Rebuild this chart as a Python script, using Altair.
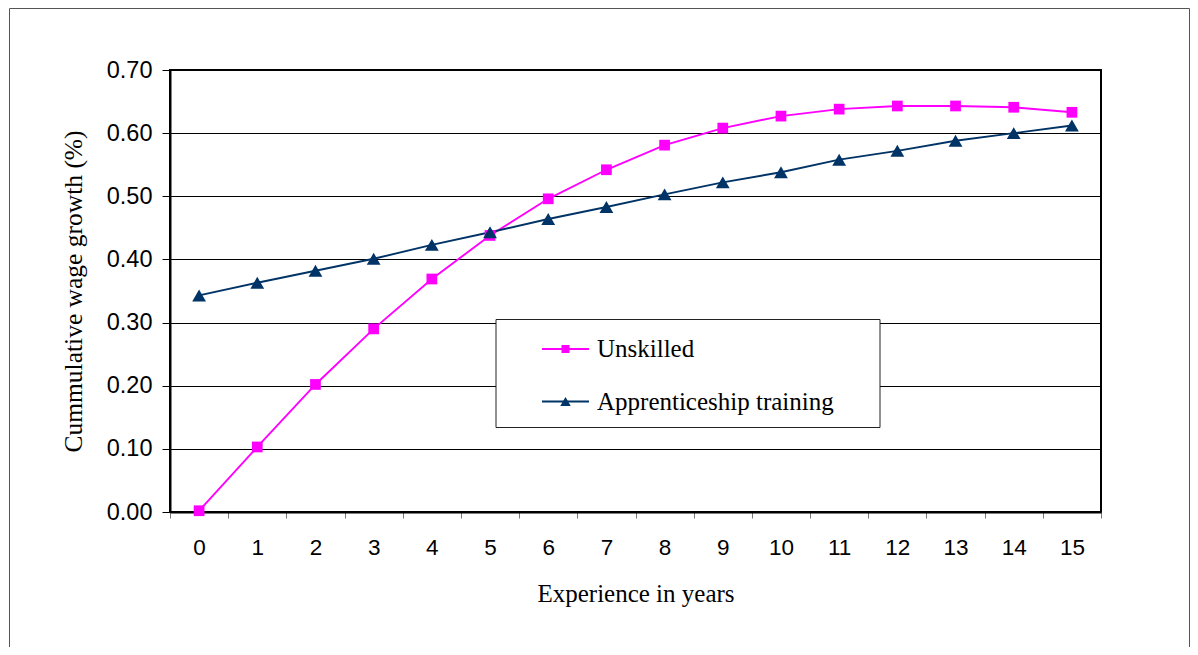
import altair as alt
import pandas as pd

years = list(range(16))
unskilled = [0.002, 0.103, 0.202, 0.290, 0.369, 0.438, 0.496, 0.542, 0.581, 0.608,
             0.627, 0.638, 0.643, 0.643, 0.641, 0.633]
apprentice = [0.343, 0.363, 0.382, 0.401, 0.423, 0.443, 0.464, 0.483, 0.503, 0.522,
              0.538, 0.558, 0.572, 0.588, 0.600, 0.612]
series_names = ["Unskilled", "Apprenticeship training"]
series_colors = ["#FF00FF", "#003366"]
series_shapes = ["square", "triangle-up"]
series_sizes = [115, 190]
legend_sizes = [64, 110]
y_ticks = [0.0, 0.1, 0.2, 0.3, 0.4, 0.5, 0.6, 0.7]

rows = []
for name, vals in zip(series_names, [unskilled, apprentice]):
    for x, v in zip(years, vals):
        rows.append({"year": x, "value": v, "series": name})
df = pd.DataFrame(rows)

SANS = "Liberation Sans"
SERIF = "Liberation Serif"

x_enc = alt.X("year:O", bandPosition=0.5,
              scale=alt.Scale(type="band", paddingInner=0, paddingOuter=0, domain=years),
              axis=alt.Axis(title="Experience in years", labelAngle=0, tickBand="extent",
                            grid=False, domainColor="black", domainWidth=2,
                            tickColor="#777", tickSize=6, tickWidth=1,
                            labelFont=SANS, labelFontSize=22.5, labelColor="black",
                            labelPadding=18, titleFont=SERIF, titleFontSize=25,
                            titleFontWeight="normal", titleColor="black", titlePadding=23))
y_enc = alt.Y("value:Q",
              scale=alt.Scale(domain=[0, 0.7], nice=False, zero=True),
              axis=alt.Axis(title="Cummulative wage growth (%)", values=y_ticks, format=".2f",
                            grid=True, gridColor="black", gridWidth=1,
                            domainColor="black", domainWidth=2,
                            tickColor="black", tickSize=8, tickWidth=1,
                            labelFont=SANS, labelFontSize=23.5, labelColor="black",
                            labelPadding=10, titleFont=SERIF, titleFontSize=25.5,
                            titleFontWeight="normal", titleColor="black", titlePadding=20))
color_enc = alt.Color("series:N", scale=alt.Scale(domain=series_names, range=series_colors),
                      legend=None)
shape_enc = alt.Shape("series:N", scale=alt.Scale(domain=series_names, range=series_shapes),
                      legend=None)
size_enc = alt.Size("series:N", scale=alt.Scale(domain=series_names, range=series_sizes),
                    legend=None)

base = alt.Chart(df)
lines = base.mark_line(strokeWidth=1.9).encode(x=x_enc, y=y_enc, color=color_enc, detail="series:N")
points = base.mark_point(filled=True, opacity=1).encode(
    x=x_enc, y=y_enc, color=color_enc, shape=shape_enc, size=size_enc)

# Outer frame
frame = alt.Chart(pd.DataFrame({"k": [0]})).mark_rect(
    fill=None, stroke="#555", strokeWidth=1).encode(
    x=alt.value(-160.5), x2=alt.value(1019.5), y=alt.value(-61.5), y2=alt.value(700))

# Legend box
legend_box = alt.Chart(pd.DataFrame({"k": [0]})).mark_rect(
    fill="white", stroke="#222", strokeWidth=1).encode(
    x=alt.value(326), x2=alt.value(710), y=alt.value(249.5), y2=alt.value(357.5))

legend_layers = []
legend_y = [279, 331.5]
for name, col, shp, sz, ly in zip(series_names, series_colors, series_shapes, legend_sizes, legend_y):
    d = alt.Chart(pd.DataFrame({"label": [name]}))
    legend_layers.append(d.mark_rule(color=col, strokeWidth=1.9).encode(
        x=alt.value(372), x2=alt.value(419), y=alt.value(ly)))
    legend_layers.append(d.mark_point(shape=shp, filled=True, opacity=1, size=sz, color=col).encode(
        x=alt.value(395.5), y=alt.value(ly)))
    legend_layers.append(d.mark_text(align="left", baseline="middle", font=SERIF, fontSize=25,
                                     color="black").encode(
        x=alt.value(427), y=alt.value(ly), text="label:N"))

chart = alt.layer(frame, lines, points, legend_box, *legend_layers).properties(
    width=931, height=442,
    autosize=alt.AutoSizeParams(type="none"),
    padding={"left": 162, "top": 62, "right": 89, "bottom": 135},
).configure_view(stroke="black", strokeWidth=2)

chart.save("out.html", embed_options={"renderer": "svg", "actions": False})
